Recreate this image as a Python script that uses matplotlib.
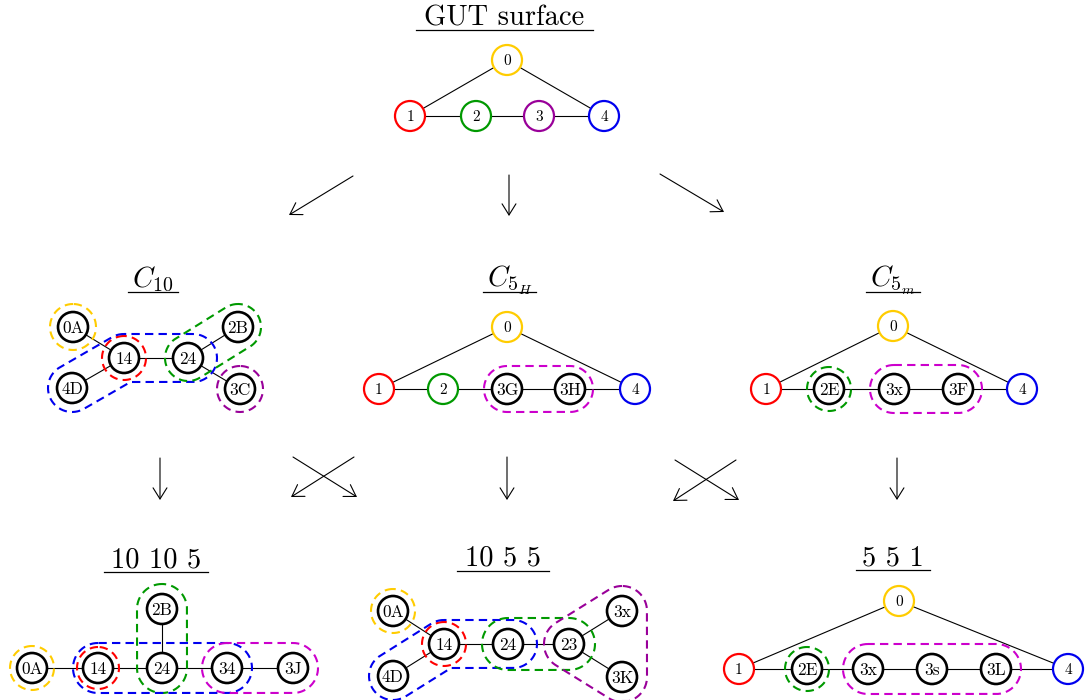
import numpy as np
import matplotlib.pyplot as plt
from matplotlib.patches import Circle
import contourpy

plt.rcParams['mathtext.fontset'] = 'cm'

YEL = '#ffcc00'
RED = '#ff0000'
GRN = '#009900'
PUR = '#990099'
MAG = '#cc00cc'
BLU = '#0000ee'
BLK = 'k'

# --- GUT surface
gut_names = ['0', '1', '2', '3', '4']
gut_pos = [(507, 60), (410, 116), (476, 116), (539, 116), (604, 116)]
gut_cols = [YEL, RED, GRN, PUR, BLU]
gut_edges = [(0, 1), (0, 4), (1, 2), (2, 3), (3, 4)]

# --- C_10
c10_names = ['0A', '14', '24', '2B', '4D', '3C']
c10_pos = [(73, 327), (124, 358), (188, 358), (238, 327), (72, 388), (240, 389)]
c10_cols = [BLK] * 6
c10_edges = [(0, 1), (1, 2), (1, 4), (2, 3), (2, 5)]
c10_loops = [([0], YEL, 23, 0), ([1], RED, 22, 0), ([4, 1, 2], BLU, 24, 5),
             ([2, 3], GRN, 23, 0), ([5], PUR, 23, 0)]

# --- C_5H
c5h_names = ['0', '1', '2', '3G', '3H', '4']
c5h_pos = [(507, 327), (379, 389), (443, 389), (507, 389), (570, 389), (635, 389)]
c5h_cols = [YEL, RED, GRN, BLK, BLK, BLU]
c5h_edges = [(0, 1), (0, 5), (1, 2), (2, 3), (3, 4), (4, 5)]
c5h_loops = [([3, 4], MAG, 23, 0)]

# --- C_5m
c5m_names = ['0', '1', '2E', '3x', '3F', '4']
c5m_pos = [(893, 326), (766, 389), (829, 389), (894, 389), (958, 389), (1022, 389)]
c5m_cols = [YEL, RED, BLK, BLK, BLK, BLU]
c5m_edges = [(0, 1), (0, 5), (1, 2), (2, 3), (3, 4), (4, 5)]
c5m_loops = [([2], GRN, 22, 0), ([3, 4], MAG, 24, 0)]

# --- 10 10 5
t1_names = ['0A', '14', '24', '2B', '34', '3J']
t1_pos = [(32, 668), (98, 668), (162, 668), (162, 609), (227, 668), (293, 668)]
t1_cols = [BLK] * 6
t1_edges = [(0, 1), (1, 2), (2, 3), (2, 4), (4, 5)]
t1_loops = [([0], YEL, 22, 0), ([1], RED, 21, 0), ([3, 2], GRN, 25, 0),
            ([1, 4], BLU, 25, 0), ([4, 5], MAG, 25, 0)]

# --- 10 5 5
t2_names = ['0A', '14', '24', '23', '3x', '3K', '4D']
t2_pos = [(393, 611), (444, 644), (508, 644), (569, 644), (622, 611), (622, 677), (393, 676)]
t2_cols = [BLK] * 7
t2_edges = [(0, 1), (1, 6), (1, 2), (2, 3), (3, 4), (3, 5)]
t2_loops = [([0], YEL, 22, 0), ([1], RED, 22, 0), ([6, 1, 2], BLU, 24, 5),
            ([2, 3], GRN, 26, 0), ([3, 4, 5, 3], PUR, 25, 0)]

# --- 5 5 1
t3_names = ['0', '1', '2E', '3x', '3s', '3L', '4']
t3_pos = [(899, 601), (739, 669), (807, 669), (868, 669), (932, 669), (996, 669), (1068, 669)]
t3_cols = [YEL, RED, BLK, BLK, BLK, BLK, BLU]
t3_edges = [(0, 1), (0, 6), (1, 2), (2, 3), (3, 4), (4, 5), (5, 6)]
t3_loops = [([2], GRN, 22, 0), ([3, 5], MAG, 25, 0)]

titles = ['GUT surface', '$C_{10}$', '$C_{5_H}$', '$C_{5_m}$', '10 10 5', '10 5 5', '5 5 1']
title_lines = [(416, 593, 30), (128, 178, 292), (483, 536, 292), (866, 920, 292),
               (104, 208, 572), (457, 549, 571), (856, 930, 570)]

arrows = [((353, 176), (289, 215)), ((509, 175), (509, 216)), ((660, 174), (724, 212)),
          ((160, 458), (160, 500)), ((293, 457), (357, 497)), ((354, 457), (291, 497)),
          ((507, 457), (507, 500)), ((675, 460), (739, 500)), ((736, 460), (673, 501)),
          ((897, 458), (897, 500))]

fig = plt.figure(figsize=(10.86, 7.0), dpi=100)
ax = fig.add_axes([0, 0, 1, 1])
ax.set_xlim(0, 1086)
ax.set_ylim(700, 0)
ax.axis('off')


def graph(names, pos, cols, edges):
    for a, b in edges:
        ax.plot([pos[a][0], pos[b][0]], [pos[a][1], pos[b][1]], color='k', lw=0.8, zorder=1)
    for n, (x, y), c in zip(names, pos, cols):
        ax.add_patch(Circle((x, y), 15, fc='white', ec=c, lw=1.6 if c != BLK else 1.9, zorder=3))
        fs = 11 if c != BLK else 12.5
        ax.text(x, y + 0.33 * fs * 100 / 72, n, family='cmr10', fontsize=fs,
                ha='center', va='baseline', zorder=4)


def loop(pts, col, pad, ext=0):
    # dashed outline at distance pad around a polyline of node centres
    pts = np.array(pts, float)
    if len(pts) == 1:
        segs = [(pts[0], pts[0])]
    else:
        if ext:
            v = pts[-1] - pts[-2]
            pts[-1] = pts[-1] + ext * v / np.hypot(*v)
        segs = list(zip(pts[:-1], pts[1:]))
    x0, y0 = pts.min(0) - pad - 5
    x1, y1 = pts.max(0) + pad + 5
    gx = np.arange(x0, x1, 0.5)
    gy = np.arange(y0, y1, 0.5)
    X, Y = np.meshgrid(gx, gy)
    d = np.full(X.shape, np.inf)
    for a, b in segs:
        ab = b - a
        L2 = ab @ ab
        if L2 > 0:
            t = np.clip(((X - a[0]) * ab[0] + (Y - a[1]) * ab[1]) / L2, 0, 1)
        else:
            t = 0
        d = np.minimum(d, np.hypot(X - (a[0] + t * ab[0]), Y - (a[1] + t * ab[1])))
    for ln in contourpy.contour_generator(gx, gy, d).lines(pad):
        ax.plot(ln[:, 0], ln[:, 1], color=col, lw=1.5, ls=(0, (4, 2.5)), zorder=5)


panels = [(gut_names, gut_pos, gut_cols, gut_edges, []),
          (c10_names, c10_pos, c10_cols, c10_edges, c10_loops),
          (c5h_names, c5h_pos, c5h_cols, c5h_edges, c5h_loops),
          (c5m_names, c5m_pos, c5m_cols, c5m_edges, c5m_loops),
          (t1_names, t1_pos, t1_cols, t1_edges, t1_loops),
          (t2_names, t2_pos, t2_cols, t2_edges, t2_loops),
          (t3_names, t3_pos, t3_cols, t3_edges, t3_loops)]

for names, pos, cols, edges, loops in panels:
    graph(names, pos, cols, edges)
    for idx, col, pad, ext in loops:
        loop([pos[i] for i in idx], col, pad, ext)

for t, (xa, xb, yl) in zip(titles, title_lines):
    fam = 'cmr10' if not t.startswith('$') else None
    ax.text((xa + xb) / 2, yl - 5, t, family=fam, fontsize=20.5, ha='center', va='baseline')
    ax.plot([xa, xb], [yl, yl], color='k', lw=0.9)

for (xs, ys), (xe, ye) in arrows:
    ax.annotate('', xy=(xe, ye), xytext=(xs, ys),
                arrowprops=dict(arrowstyle='->,head_length=0.4,head_width=0.25', lw=0.8,
                                color='k', shrinkA=0, shrinkB=0, mutation_scale=20))

fig.savefig('out.png', dpi=100)
